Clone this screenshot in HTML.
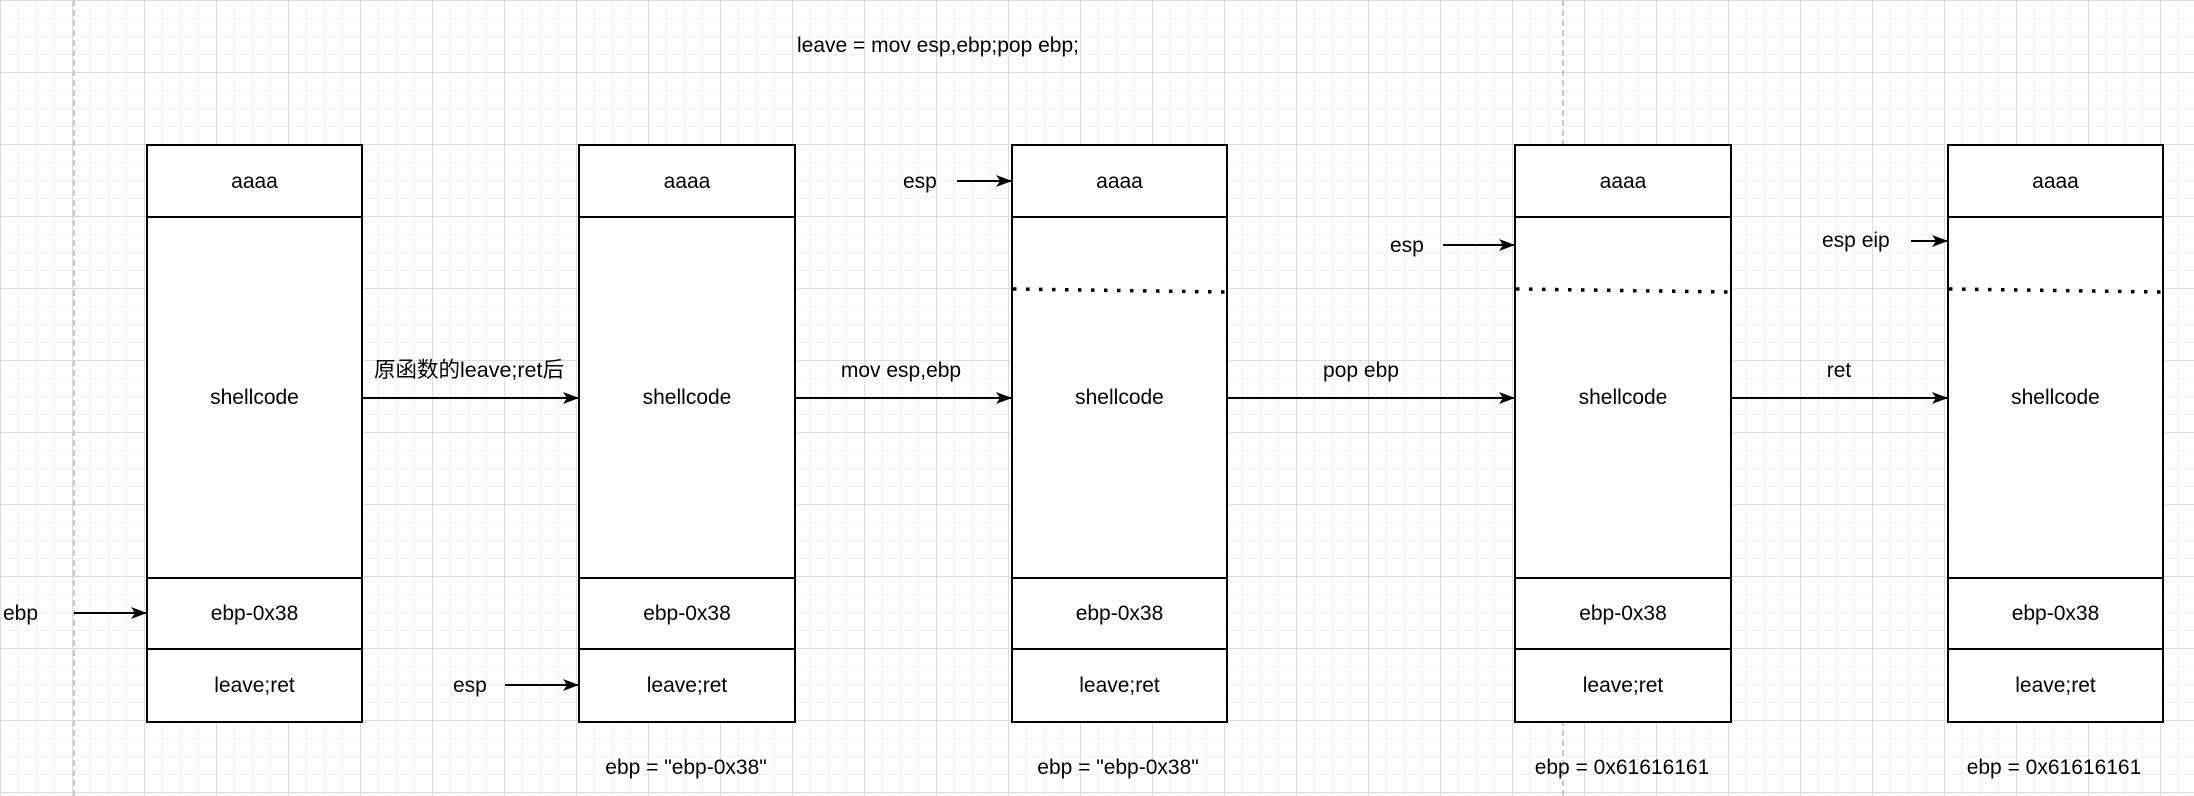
<!DOCTYPE html>
<html><head><meta charset="utf-8"><style>
html,body{margin:0;padding:0;}
body{width:2194px;height:796px;overflow:hidden;background-color:#fff;
background-image:
linear-gradient(to right,#dcdcdc 1px,transparent 1px),
linear-gradient(to bottom,#dcdcdc 1px,transparent 1px),
linear-gradient(to right,#f2f2f2 1px,transparent 1px),
linear-gradient(to bottom,#f2f2f2 1px,transparent 1px);
background-size:72px 72px,72px 72px,18px 18px,18px 18px;}
svg{position:absolute;left:0;top:0;}
text{font-family:"Liberation Sans","Noto Sans CJK SC",sans-serif;font-size:21px;fill:#000;}
</style></head><body>
<svg width="2194" height="796" viewBox="0 0 2194 796">
<defs><marker id="a" markerWidth="16" markerHeight="12" refX="15" refY="6" orient="auto" markerUnits="userSpaceOnUse"><path d="M0,0 L16,6 L0,12 L4,6 z" fill="#000"/></marker></defs>
<line x1="74" y1="0" x2="74" y2="796" stroke="#c8c8c8" stroke-width="2" stroke-dasharray="6,4"/>
<line x1="1563" y1="0" x2="1563" y2="796" stroke="#c8c8c8" stroke-width="2" stroke-dasharray="6,4"/>
<g fill="#fff" stroke="#000" stroke-width="2">
<rect x="147" y="145" width="215" height="577"/>
<rect x="579" y="145" width="216" height="577"/>
<rect x="1012" y="145" width="215" height="577"/>
<rect x="1515" y="145" width="216" height="577"/>
<rect x="1948" y="145" width="215" height="577"/>
</g>
<g stroke="#000" stroke-width="2">
<path d="M147 217H362M147 578H362M147 649H362"/>
<path d="M579 217H795M579 578H795M579 649H795"/>
<path d="M1012 217H1227M1012 578H1227M1012 649H1227"/>
<path d="M1515 217H1731M1515 578H1731M1515 649H1731"/>
<path d="M1948 217H2163M1948 578H2163M1948 649H2163"/>
</g>
<g stroke="#000" stroke-width="3.5" stroke-dasharray="3.5,9.5">
<line x1="1013" y1="289" x2="1226" y2="292"/>
<line x1="1516" y1="289" x2="1730" y2="292"/>
<line x1="1949" y1="289" x2="2162" y2="292"/>
</g>
<g text-anchor="middle">
<text x="254.5" y="188">aaaa</text><text x="254.5" y="404">shellcode</text><text x="254.5" y="620">ebp-0x38</text><text x="254.5" y="692">leave;ret</text>
<text x="687" y="188">aaaa</text><text x="687" y="404">shellcode</text><text x="687" y="620">ebp-0x38</text><text x="687" y="692">leave;ret</text>
<text x="1119.5" y="188">aaaa</text><text x="1119.5" y="404">shellcode</text><text x="1119.5" y="620">ebp-0x38</text><text x="1119.5" y="692">leave;ret</text>
<text x="1623" y="188">aaaa</text><text x="1623" y="404">shellcode</text><text x="1623" y="620">ebp-0x38</text><text x="1623" y="692">leave;ret</text>
<text x="2055.5" y="188">aaaa</text><text x="2055.5" y="404">shellcode</text><text x="2055.5" y="620">ebp-0x38</text><text x="2055.5" y="692">leave;ret</text>
</g>
<g stroke="#000" stroke-width="2" marker-end="url(#a)">
<line x1="362" y1="398" x2="578" y2="398"/>
<line x1="795" y1="398" x2="1011" y2="398"/>
<line x1="1227" y1="398" x2="1514" y2="398"/>
<line x1="1731" y1="398" x2="1947" y2="398"/>
<line x1="74" y1="613" x2="146" y2="613"/>
<line x1="505" y1="685" x2="578" y2="685"/>
<line x1="957" y1="181" x2="1011" y2="181"/>
<line x1="1443" y1="245" x2="1514" y2="245"/>
<line x1="1911" y1="241" x2="1947" y2="241"/>
</g>
<text x="374" y="377" style="font-size:21.5px">原函数的leave;ret后</text>
<g text-anchor="middle">
<text x="901" y="377">mov esp,ebp</text>
<text x="1361" y="377">pop ebp</text>
<text x="1839" y="377">ret</text>
<text x="686" y="774">ebp = "ebp-0x38"</text>
<text x="1118" y="774">ebp = "ebp-0x38"</text>
<text x="1622" y="774">ebp = 0x61616161</text>
<text x="2054" y="774">ebp = 0x61616161</text>
<text x="938" y="52">leave = mov esp,ebp;pop ebp;</text>
</g>
<text x="3" y="620">ebp</text>
<text x="453" y="692">esp</text>
<text x="903" y="188">esp</text>
<text x="1390" y="252">esp</text>
<text x="1822" y="247">esp eip</text>
</svg>
</body></html>
